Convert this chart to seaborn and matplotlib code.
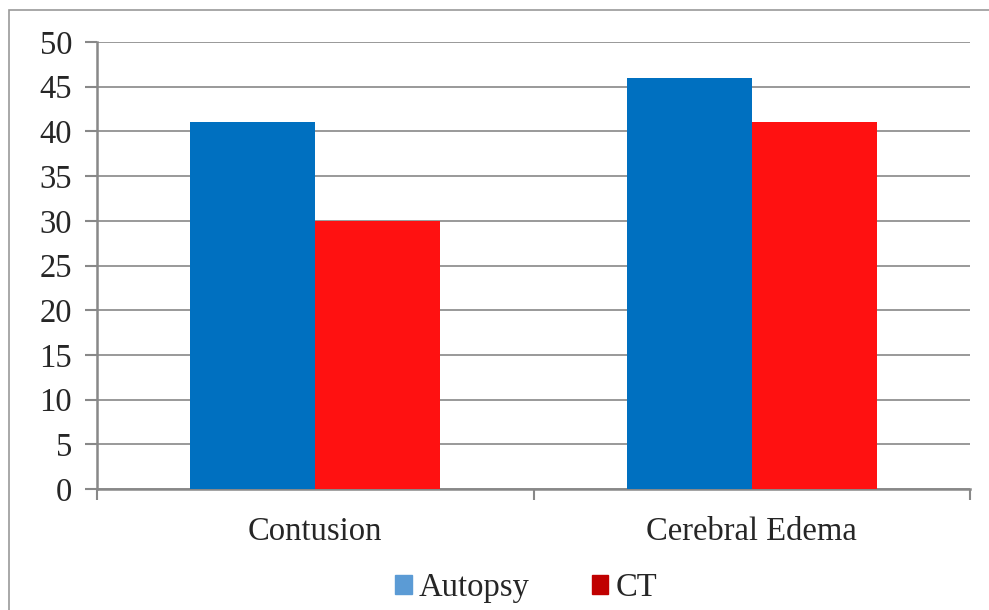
import matplotlib.pyplot as plt
import matplotlib.patches as mpatches
import pandas as pd
import seaborn as sns

# Data
categories = ['Contusion', 'Cerebral Edema']
autopsy = [41, 46]
ct = [30, 41]
series = ['Autopsy', 'CT']

df = pd.DataFrame({
    'category': categories * 2,
    'series': ['Autopsy'] * len(categories) + ['CT'] * len(categories),
    'value': autopsy + ct,
})

sns.set_style('white')
plt.rcParams['font.family'] = ['Liberation Serif', 'DejaVu Serif']

fig = plt.figure(figsize=(9.89, 6.10), dpi=100)
ax = fig.add_axes([97 / 989, 1 - 489 / 610, (970 - 97) / 989, (489 - 42) / 610])

sns.barplot(data=df, x='category', y='value', hue='series', order=categories,
            hue_order=series, palette=['#0070C0', '#FF1111'], width=0.572,
            saturation=1, linewidth=0, ax=ax, legend=False, zorder=3)

ax.set_ylim(0, 50)
ax.set_yticks(range(0, 51, 5))
ax.set_xlim(-0.5, 1.5)
ax.set_xticks([-0.5, 0.5, 1.5], minor=False)
ax.set_xticklabels([])
ax.set_xticks([0, 1], minor=True)
ax.set_xticklabels(categories, minor=True)
ax.tick_params(axis='x', which='minor', bottom=True, length=0, pad=20, labelsize=23.5)
ax.tick_params(axis='x', which='major', bottom=True, length=8, color='#888888', width=1.5)
ax.tick_params(axis='y', left=True, length=9, color='#888888', width=1.5, pad=9, labelsize=23.5)
ax.grid(axis='y', color='#888888', linewidth=1.2, zorder=0)
ax.set_axisbelow(True)
ax.set_xlabel('')
ax.set_ylabel('')
for side in ['top', 'right']:
    ax.spines[side].set_visible(False)
for side in ['left', 'bottom']:
    ax.spines[side].set_color('#888888')
    ax.spines[side].set_linewidth(1.8)

# Legend
handles = [mpatches.Patch(color='#5B9BD5', label='Autopsy'),
           mpatches.Patch(color='#C00000', label='CT')]
fig.legend(handles=handles, loc='center', bbox_to_anchor=(526 / 989, 1 - 588 / 610),
           ncol=2, frameon=False, fontsize=23.5, handlelength=0.5, handleheight=0.5,
           handletextpad=0.22, columnspacing=1.9)

# Outer border
fig.patches.append(mpatches.Rectangle((9 / 989, -0.1), 1.2, 1.1 - 10 / 610,
                                      transform=fig.transFigure, fill=False,
                                      edgecolor='#999999', linewidth=1.2))

fig.savefig('out.png', dpi=100)
